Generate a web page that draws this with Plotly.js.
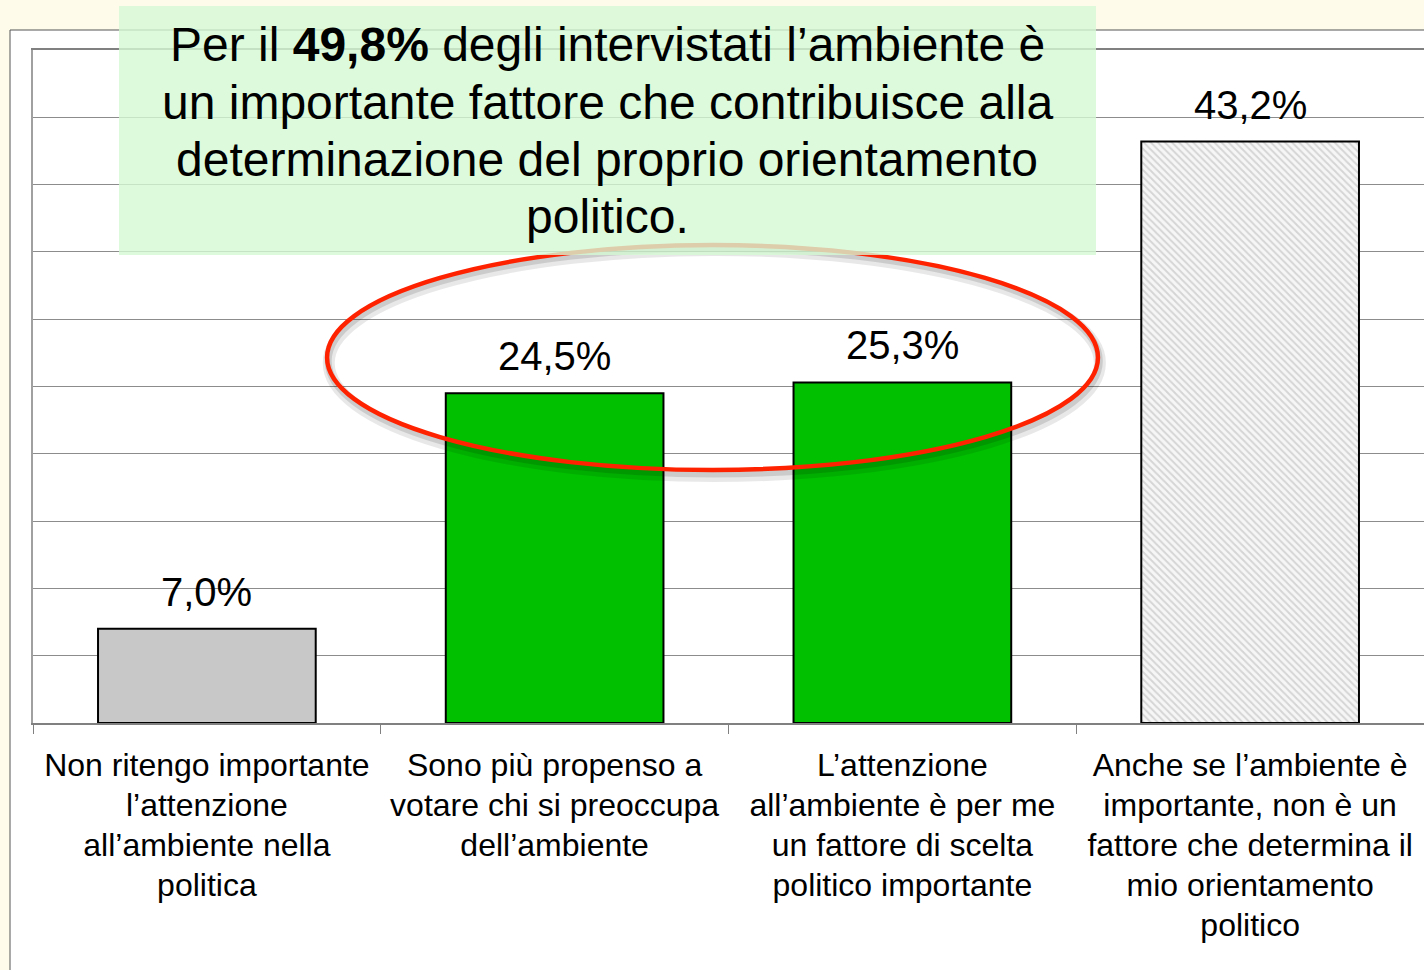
<!DOCTYPE html>
<html>
<head>
<meta charset="utf-8">
<script src="https://cdn.plot.ly/plotly-3.0.1.min.js"></script>
<style>
  html, body { margin: 0; padding: 0; background: #fefbeb; overflow: hidden; }
  #chart { width: 1424px; height: 970px; }
</style>
</head>
<body>
<div id="chart"></div>
<script>
// ---- data ----
const categories = [
  "Non ritengo importante l’attenzione all’ambiente nella politica",
  "Sono più propenso a votare chi si preoccupa dell’ambiente",
  "L’attenzione all’ambiente è per me un fattore di scelta politico importante",
  "Anche se l’ambiente è importante, non è un fattore che determina il mio orientamento politico"
];
const tickLabels = [
  "Non ritengo importante<br>l’attenzione<br>all’ambiente nella<br>politica",
  "Sono più propenso a<br>votare chi si preoccupa<br>dell’ambiente",
  "L’attenzione<br>all’ambiente è per me<br>un fattore di scelta<br>politico importante",
  "Anche se l’ambiente è<br>importante, non è un<br>fattore che determina il<br>mio orientamento<br>politico"
];
const values = [7.0, 24.5, 25.3, 43.2];
const barColors = ["#c8c8c8", "#00c000", "#00c000", "#ffffff"];
const hatched = [false, false, false, true];
const titleLines = [
  "Per il <b>49,8%</b> degli intervistati l’ambiente è",
  "un importante fattore che contribuisce alla",
  "determinazione del proprio orientamento",
  "politico."
];

const FONT = "Liberation Sans, Arial, Helvetica, sans-serif";

const solidIdx = values.map((v, i) => i).filter(i => !hatched[i]);
const hatchIdx = values.map((v, i) => i).filter(i => hatched[i]);

const solidTrace = {
  type: "bar",
  x: solidIdx.map(i => categories[i]),
  y: solidIdx.map(i => values[i]),
  width: 0.626,
  marker: { color: solidIdx.map(i => barColors[i]), line: { color: "#000000", width: 2 } },
  hoverinfo: "skip"
};
const hatchTrace = {
  type: "bar",
  x: hatchIdx.map(i => categories[i]),
  y: hatchIdx.map(i => values[i]),
  width: 0.626,
  marker: {
    color: "#f6f6f6",
    line: { color: "#000000", width: 2 },
    pattern: { shape: "\\", fillmode: "overlay", fgcolor: "#b4b4b4", size: 5, solidity: 0.4 }
  },
  hoverinfo: "skip"
};

// value labels above bars
const valueAnns = categories.map((c, i) => ({
  x: c, y: values[i], xref: "x", yref: "y",
  text: values[i].toFixed(1).replace(".", ",") + "%",
  showarrow: false, yanchor: "bottom", yshift: 13,
  font: { family: FONT, size: 40, color: "#000" }
}));

// title lines in green box
const titleY = [0.9658, 0.8796, 0.7949, 0.7103];
const titleAnns = titleLines.map((t, i) => ({
  x: 0.413, y: titleY[i], xref: "paper", yref: "paper",
  text: t, showarrow: false, xanchor: "center", yanchor: "bottom",
  font: { family: FONT, size: 48, color: "#000" }
}));

// tick text: glyphs at 32px, line pitch from a 30.8px base font (≈40px pitch)
const tickText = tickLabels.map(l => l.split("<br>").map(s => '<span style="font-size:32px">' + s + '</span>').join("<br>"));

const layout = {
  width: 1424, height: 970,
  margin: { l: 33, r: 0, t: 50, b: 247 },
  paper_bgcolor: "#fefbeb",
  plot_bgcolor: "#ffffff",
  showlegend: false,
  barmode: "overlay",
  xaxis: {
    type: "category",
    categoryorder: "array", categoryarray: categories,
    tickvals: categories,
    ticktext: tickText,
    tickson: "boundaries",
    ticks: "outside", ticklen: 9, tickwidth: 1, tickcolor: "#808080",
    ticklabelstandoff: 14,
    showline: true, linecolor: "#808080", linewidth: 2, mirror: true,
    showgrid: false,
    tickfont: { family: FONT, size: 30.8, color: "#000" }
  },
  yaxis: {
    range: [0, 50], dtick: 5,
    showticklabels: false, ticks: "",
    showgrid: true, gridcolor: "#8c8c8c", gridwidth: 1,
    zeroline: false,
    showline: true, linecolor: "#a0a0a0", linewidth: 2
  },
  shapes: [
    // outer white frame
    { type: "rect", xref: "paper", yref: "paper", layer: "below",
      x0: -0.01653, x1: 1.02, y0: -0.45, y1: 1.0297,
      fillcolor: "#ffffff", line: { color: "#555555", width: 1 } },
    // ellipse shadow
    { type: "circle", xref: "paper", yref: "paper", layer: "above",
      x0: 0.2126, x1: 0.7670, y0: 0.3670, y1: 0.7030,
      line: { color: "rgba(0,0,0,0.09)", width: 12 } },
    { type: "circle", xref: "paper", yref: "paper", layer: "above",
      x0: 0.2122, x1: 0.7666, y0: 0.3700, y1: 0.7055,
      line: { color: "rgba(0,0,0,0.12)", width: 7 } },
    // red ellipse
    { type: "circle", xref: "paper", yref: "paper", layer: "above",
      x0: 0.2114, x1: 0.7656, y0: 0.3759, y1: 0.7103,
      line: { color: "#ff2200", width: 4.5 } },
    // green title box
    { type: "rect", xref: "paper", yref: "paper", layer: "above",
      x0: 0.0618, x1: 0.7642, y0: 0.6954, y1: 1.0654,
      fillcolor: "rgb(213,249,213)", opacity: 0.8, line: { width: 0 } }
  ],
  annotations: valueAnns.concat(titleAnns)
};

Plotly.newPlot("chart", [solidTrace, hatchTrace], layout, { displayModeBar: false, staticPlot: true });
</script>
</body>
</html>
